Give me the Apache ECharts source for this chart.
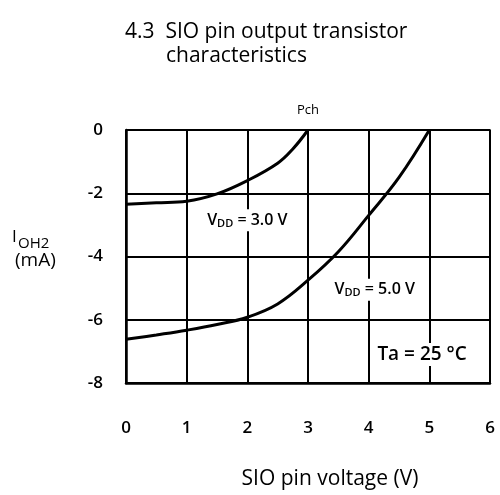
<!DOCTYPE html>
<html><head><meta charset="utf-8">
<script src="https://cdn.jsdelivr.net/npm/echarts@6/dist/echarts.min.js"></script>
<style>html,body{margin:0;padding:0;background:#fff}#c{width:500px;height:495px}</style>
</head><body><div id="c"></div>
<script>
var xTicks = [0, 1, 2, 3, 4, 5, 6];
var yTicks = [0, -2, -4, -6, -8];
var vdd3X = [0, 0.5, 1, 1.5, 2, 2.5, 2.75, 3];
var vdd3Y = [-2.35, -2.3, -2.25, -2.02, -1.6, -1.05, -0.6, 0];
var vdd5X = [0, 0.5, 1, 1.5, 2, 2.5, 3, 3.5, 4, 4.5, 5];
var vdd5Y = [-6.62, -6.48, -6.33, -6.15, -5.92, -5.5, -4.75, -3.85, -2.7, -1.5, 0];

function pairs(xs, ys){ return xs.map(function(x,i){return [x, ys[i]];}); }
var FONT = '"Open Sans", "Noto Sans", sans-serif';
var chart = echarts.init(document.getElementById('c'), null, {renderer:'canvas'});
var rich = {
  n:{fontSize:16, fontFamily:FONT, color:'#000', fontWeight:600},
  s:{fontSize:11, fontFamily:FONT, color:'#000', fontWeight:600, verticalAlign:'bottom', padding:[7,0,0,0]}
};
chart.setOption({
  animation:false,
  backgroundColor:'#fff',
  grid:{left:126, right:10, top:130, bottom:112, show:true, borderColor:'#000', borderWidth:1.5,
        containLabel:false, outerBoundsMode:'none'},
  xAxis:{type:'value', min:0, max:6, interval:1,
    axisLine:{show:true, onZero:false, lineStyle:{color:'#000', width:2.5}},
    axisTick:{show:false},
    splitLine:{show:true, lineStyle:{color:'#000', width:2}},
    axisLabel:{margin:37, fontSize:17, fontFamily:FONT, color:'#000', fontWeight:600,
      formatter:function(v){return xTicks.indexOf(v)>=0?String(v):'';}},
    name:'SIO pin voltage (V)', nameLocation:'middle', nameGap:86,
    nameTextStyle:{fontSize:21, fontFamily:FONT, color:'#000', padding:[0,0,0,44]}
  },
  yAxis:{type:'value', min:-8, max:0, interval:2,
    axisLine:{show:true, onZero:false, lineStyle:{color:'#000', width:2.5}},
    axisTick:{show:false},
    splitLine:{show:true, lineStyle:{color:'#000', width:2}},
    axisLabel:{margin:23, fontSize:17, fontFamily:FONT, color:'#000', fontWeight:600,
      formatter:function(v){return yTicks.indexOf(v)>=0?String(v):'';}}
  },
  graphic:[
    {type:'text', left:125, top:22, style:{text:'4.3  SIO pin output transistor', font:'21px '+FONT, fill:'#000'}},
    {type:'text', left:166, top:46, style:{text:'characteristics', font:'21px '+FONT, fill:'#000'}},
    {type:'text', left:297, top:104, style:{text:'Pch', font:'13px '+FONT, fill:'#000'}},
    {type:'text', left:12, top:229, style:{text:'I', font:'17px '+FONT, fill:'#000'}},
    {type:'text', left:18, top:236, style:{text:'OH2', font:'15px '+FONT, fill:'#000'}},
    {type:'text', left:15, top:251, style:{text:'(mA)', font:'19px '+FONT, fill:'#000'}}
  ],
  series:[
    {type:'line', data:pairs(vdd3X, vdd3Y), smooth:0.4, symbol:'none', lineStyle:{color:'#000', width:3},
     markPoint:{symbolSize:0, data:[{coord:[2.0,-2.85], value:3,
       label:{show:true, position:'inside', backgroundColor:'#fff', padding:[2,3],
         formatter:'{n|V}{s|DD}{n| = 3.0 V}', rich:rich}}]}},
    {type:'line', data:pairs(vdd5X, vdd5Y), smooth:0.4, symbol:'none', lineStyle:{color:'#000', width:3},
     markPoint:{symbolSize:0, data:[
       {coord:[4.1,-5.05], value:5,
        label:{show:true, position:'inside', backgroundColor:'#fff', padding:[2,3],
          formatter:'{n|V}{s|DD}{n| = 5.0 V}', rich:rich}},
       {coord:[4.88,-7.1], value:25,
        label:{show:true, position:'inside', backgroundColor:'#fff', padding:[2,3],
          formatter:'Ta = 25 °C', fontSize:19, fontFamily:FONT, color:'#000', fontWeight:600}}
     ]}}
  ]
});
</script></body></html>
